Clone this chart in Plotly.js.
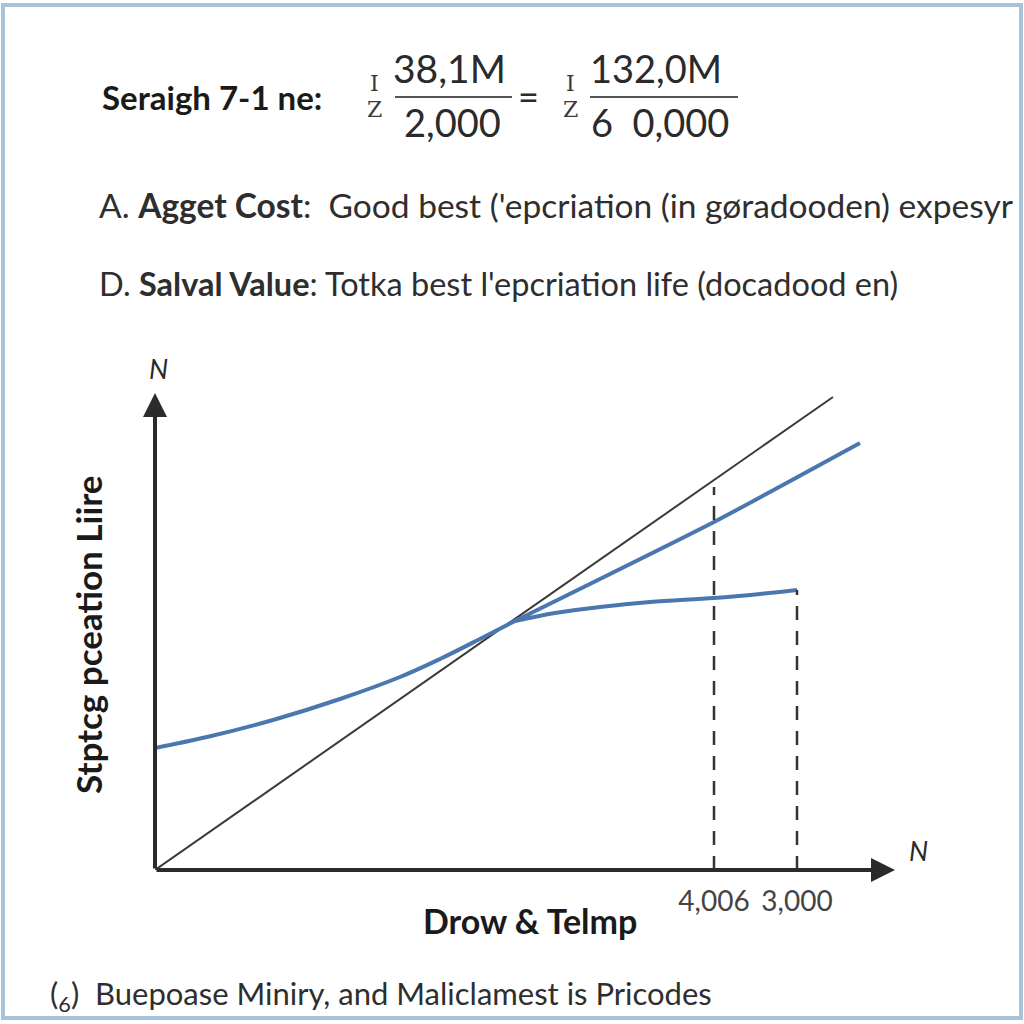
<!DOCTYPE html>
<html>
<head>
<meta charset="utf-8">
<script src="https://cdn.plot.ly/plotly-3.0.1.min.js"></script>
<style>
  html, body { margin: 0; padding: 0; background: #ffffff; }
  #chart { width: 1024px; height: 1024px; }
</style>
</head>
<body>
<div id="chart"></div>
<script>
// ---- Data (units are arbitrary axis units) ----
const diagonalX = [0, 678];
const diagonalY = [0, 473];

// rising part of the blue curve, up to the crossing point
const lowerLeftX = [0, 52, 118, 185, 245, 285, 325, 360];
const lowerLeftY = [122, 133, 150, 171, 193, 211, 231, 249];

// flattening part of the blue curve, after the crossing point
const lowerRightX = [360, 400, 445, 495, 559, 605, 642];
const lowerRightY = [249, 257, 263, 268, 272, 276, 280];

// steeper blue branch
const upperBranchX = [360, 559, 705];
const upperBranchY = [249, 348, 427];

const dash1X = [559, 559];
const dash1Y = [0, 383];
const dash2X = [642, 642];
const dash2Y = [0, 280];

const tickValues = [559, 642];
const tickLabels = ["4,006", "3,000"];

const xMax = 740;
const yMax = 477;

// ---- Layout helpers (pixel -> paper) ----
const L = 155, R = 895, T = 393, B = 870;
const fx = px => (px - L) / (R - L);
const fy = py => (B - py) / (B - T);

const FONT = "Lato, 'Open Sans', sans-serif";
const BLUE = "#4a78ae";

const traces = [
  { x: diagonalX, y: diagonalY, mode: "lines", line: { color: "#3a3a3a", width: 2 }, hoverinfo: "skip" },
  { x: lowerLeftX, y: lowerLeftY, mode: "lines", line: { color: BLUE, width: 4, shape: "spline", smoothing: 1 }, hoverinfo: "skip" },
  { x: lowerRightX, y: lowerRightY, mode: "lines", line: { color: BLUE, width: 4, shape: "spline", smoothing: 1 }, hoverinfo: "skip" },
  { x: upperBranchX, y: upperBranchY, mode: "lines", line: { color: BLUE, width: 4, shape: "spline", smoothing: 0.5 }, hoverinfo: "skip" },
  { x: dash1X, y: dash1Y, mode: "lines", line: { color: "#333", width: 2.5, dash: "14px,11px" }, hoverinfo: "skip" },
  { x: dash2X, y: dash2Y, mode: "lines", line: { color: "#333", width: 2.5, dash: "14px,11px" }, hoverinfo: "skip" }
];

function txt(text, px, py, size, opts) {
  return Object.assign({
    xref: "paper", yref: "paper", x: fx(px), y: fy(py),
    text: text, showarrow: false, xanchor: "center", yanchor: "middle",
    font: { family: FONT, size: size, color: "#2a2a2a" }
  }, opts || {});
}

function sym(ch, px, py) {
  return txt(ch, px, py, 22, { font: { family: "DejaVu Serif", size: 22, color: "#3a3a3a" } });
}

const annotations = [
  // axis arrows
  { xref: "x", yref: "y", axref: "x", ayref: "y", x: 0, y: yMax, ax: 0, ay: 0,
    showarrow: true, arrowhead: 2, arrowsize: 1.2, arrowwidth: 4, arrowcolor: "#2b2b2b", text: "" },
  { xref: "x", yref: "y", axref: "x", ayref: "y", x: xMax, y: 0, ax: 0, ay: 0,
    showarrow: true, arrowhead: 2, arrowsize: 1.2, arrowwidth: 4, arrowcolor: "#2b2b2b", text: "" },

  // header formula
  txt("<b>Seraigh 7-1 ne:</b>", 100, 97, 33, { xanchor: "left", font: { family: FONT, size: 33, color: "#1a1a1a" } }),
  sym("I", 374, 83),
  sym("Z", 374, 109),
  txt("38,1M", 449, 68, 39),
  txt("2,000", 452, 122, 38),
  txt("=", 528, 96, 36),
  sym("I", 570, 83),
  sym("Z", 570, 109),
  txt("132,0M", 656, 68, 38),
  txt("6  0,000", 660, 122, 38),

  // definitions
  txt("A. <b>Agget Cost</b>:  Good best ('epcriation (in gøradooden) expesyr", 97, 205, 33.5,
      { xanchor: "left", font: { family: FONT, size: 33.5, color: "#2e2e2e" } }),
  txt("D. <b>Salval Value</b>: Totka best l'epcriation life (docadood en)", 97, 283, 32.5,
      { xanchor: "left", font: { family: FONT, size: 32.5, color: "#2e2e2e" } }),

  // axis labels
  txt("<i>N</i>", 158, 368, 27),
  txt("<i>N</i>", 918, 850, 27),
  txt("<b>Drow &amp; Telmp</b>", 530, 920, 34, { font: { family: FONT, size: 34, color: "#1a1a1a" } }),
  txt("<b>Stptcg pceation Liire</b>", 88, 635, 35, { textangle: -90, font: { family: FONT, size: 35, color: "#1a1a1a" } }),

  // footer
  txt("(<sub>6</sub>)  Buepoase Miniry, and Maliclamest is Pricodes", 48, 995, 31,
      { xanchor: "left", font: { family: FONT, size: 31, color: "#2e2e2e" } })
];

const shapes = [
  // fraction bars
  { type: "line", xref: "paper", yref: "paper", x0: fx(395), x1: fx(512), y0: fy(97), y1: fy(97), line: { color: "#555", width: 2 } },
  { type: "line", xref: "paper", yref: "paper", x0: fx(590), x1: fx(738), y0: fy(97), y1: fy(97), line: { color: "#555", width: 2 } },
  // outer frame
  { type: "rect", xref: "paper", yref: "paper", x0: fx(3), x1: fx(1021), y0: fy(5), y1: fy(1018),
    line: { color: "#a9c4d8", width: 4 }, fillcolor: "rgba(0,0,0,0)", layer: "below" }
];

const layout = {
  width: 1024, height: 1024,
  margin: { l: L, r: 1024 - R, t: T, b: 1024 - B, pad: 0 },
  paper_bgcolor: "#ffffff", plot_bgcolor: "#ffffff",
  showlegend: false,
  xaxis: {
    range: [0, xMax], showgrid: false, zeroline: false, showline: false,
    tickmode: "array", tickvals: tickValues, ticktext: tickLabels, ticks: "",
    ticklabelstandoff: 12,
    tickfont: { family: FONT, size: 28, color: "#444" }, fixedrange: true
  },
  yaxis: {
    range: [0, yMax], showgrid: false, zeroline: false, showline: false,
    showticklabels: false, ticks: "", fixedrange: true
  },
  annotations: annotations,
  shapes: shapes
};

Plotly.newPlot("chart", traces, layout, { staticPlot: true, displayModeBar: false });
</script>
</body>
</html>
